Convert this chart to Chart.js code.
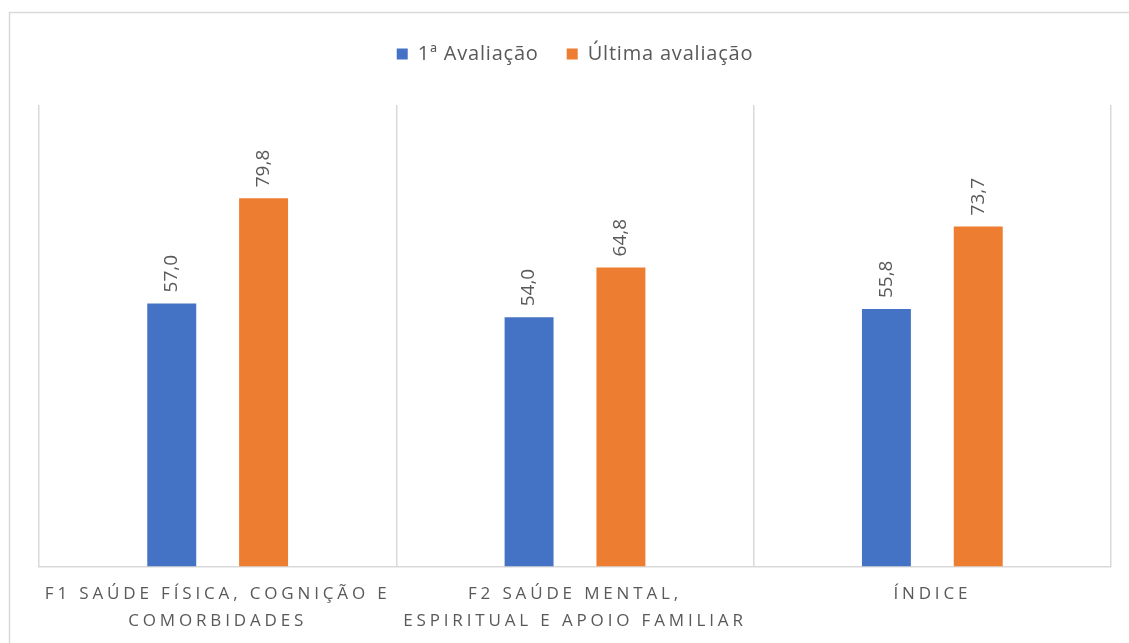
<!DOCTYPE html>
<html>
<head>
<meta charset="utf-8">
<script src="https://cdn.jsdelivr.net/npm/chart.js@4/dist/chart.umd.min.js"></script>
<style>
  html, body { margin: 0; padding: 0; background: #ffffff; }
  #wrap { position: relative; width: 1129px; height: 643px; }
</style>
</head>
<body>
<div id="wrap"><canvas id="c" width="1129" height="643"></canvas></div>
<script>
const categories = [
  ["F1 SAÚDE FÍSICA, COGNIÇÃO E", "COMORBIDADES"],
  ["F2 SAÚDE MENTAL,", "ESPIRITUAL E APOIO FAMILIAR"],
  ["ÍNDICE"]
];
const seriesNames = ["1ª Avaliação", "Última avaliação"];
const firstEval = [57.0, 54.0, 55.8];
const lastEval = [79.8, 64.8, 73.7];

const TEXT = '#595959';
const FONT = "'Open Sans', 'Liberation Sans', sans-serif";

const frame = {
  id: 'frame',
  beforeDraw(chart) {
    const ctx = chart.ctx;
    ctx.save();
    ctx.strokeStyle = '#d9d9d9';
    ctx.lineWidth = 1.5;
    ctx.strokeRect(9.5, 12.5, 1200, 700);
    ctx.restore();
  }
};

const legendTweak = {
  id: 'legendTweak',
  beforeInit(chart) {
    const lg = chart.legend;
    const f = lg.fit;
    const d = lg.draw;
    lg.fit = function () {
      const ctx = chart.ctx;
      ctx.save(); ctx.letterSpacing = '0.8px';
      f.call(lg);
      ctx.restore();
      this.height += 31;
    };
    lg.draw = function () {
      const ctx = chart.ctx;
      ctx.save(); ctx.letterSpacing = '0.8px';
      d.call(lg);
      ctx.restore();
    };
  }
};

const spacedTicks = {
  id: 'spacedTicks',
  afterUpdate(chart) {
    const s = chart.scales.x;
    if (s && !s._spaced) {
      const orig = s.drawLabels.bind(s);
      s.drawLabels = function (area) {
        const ctx = chart.ctx;
        ctx.save();
        ctx.letterSpacing = '3.85px';
        orig(area);
        ctx.restore();
      };
      s._spaced = true;
    }
  }
};

const valueLabels = {
  id: 'valueLabels',
  afterDatasetsDraw(chart) {
    const ctx = chart.ctx;
    ctx.save();
    ctx.font = "19px " + FONT;
    ctx.fillStyle = TEXT;
    ctx.textAlign = 'left';
    ctx.textBaseline = 'middle';
    chart.data.datasets.forEach((ds, di) => {
      const meta = chart.getDatasetMeta(di);
      meta.data.forEach((el, i) => {
        const txt = ds.data[i].toFixed(1).replace('.', ',');
        ctx.save();
        ctx.translate(el.x, el.y - 11);
        ctx.rotate(-Math.PI / 2);
        ctx.fillText(txt, 0, 0);
        ctx.restore();
      });
    });
    ctx.restore();
  }
};

new Chart(document.getElementById('c'), {
  type: 'bar',
  data: {
    labels: categories,
    datasets: [
      { label: seriesNames[0], data: firstEval, backgroundColor: '#4472C4',
        categoryPercentage: 0.514, barPercentage: 0.533 },
      { label: seriesNames[1], data: lastEval, backgroundColor: '#ED7D31',
        categoryPercentage: 0.514, barPercentage: 0.533 }
    ]
  },
  options: {
    responsive: false,
    animation: false,
    devicePixelRatio: 1,
    layout: { padding: { left: 39, right: 18, top: 16, bottom: -6 } },
    plugins: {
      legend: {
        position: 'top',
        labels: {
          boxWidth: 11, boxHeight: 11, padding: 28,
          color: TEXT, font: { size: 20, family: FONT }
        }
      },
      tooltip: { enabled: false }
    },
    scales: {
      x: {
        grid: { color: '#d9d9d9', lineWidth: 1.5, drawTicks: false, offset: true },
        border: { color: '#d9d9d9', width: 1.5 },
        ticks: {
          color: TEXT, padding: 14, maxRotation: 0, autoSkip: false,
          font: { size: 17, family: FONT, lineHeight: 1.6 }
        }
      },
      y: {
        display: false, min: 0, max: 100
      }
    }
  },
  plugins: [frame, legendTweak, spacedTicks, valueLabels]
});
</script>
</body>
</html>
